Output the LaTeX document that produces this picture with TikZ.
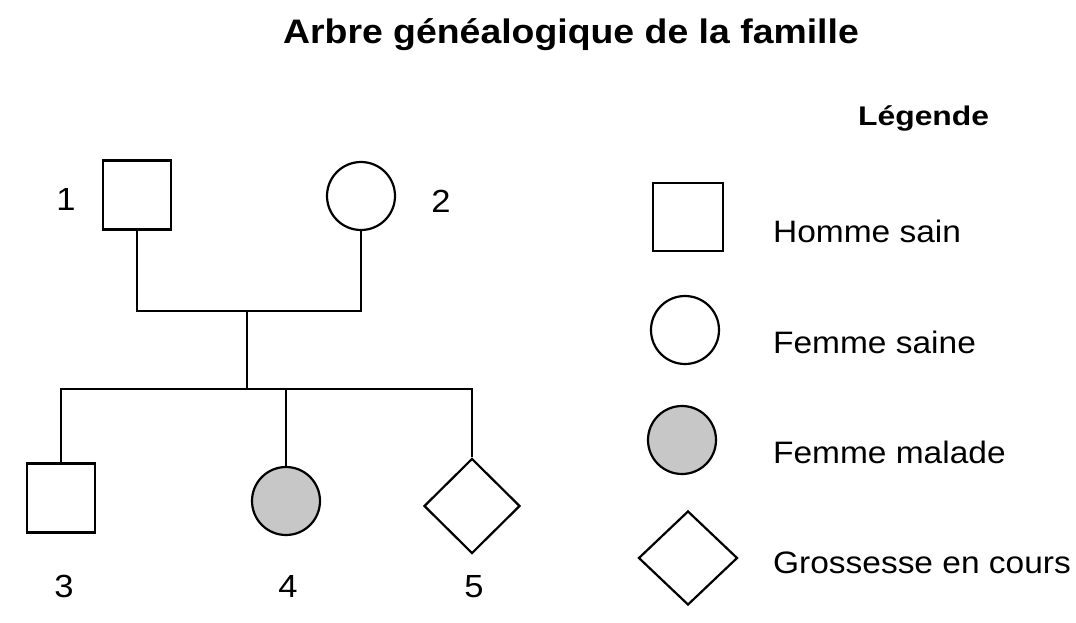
\documentclass[tikz,border=0pt]{standalone}
\usepackage{fontspec}
\setmainfont{Liberation Sans}
\newfontfamily\titlefont[FakeStretch=1.1]{Liberation Sans}
\newfontfamily\headfont[FakeStretch=1.18]{Liberation Sans}
\newfontfamily\legfont[FakeStretch=1.08]{Liberation Sans}
\usetikzlibrary{shapes.geometric}

\begin{document}
\begin{tikzpicture}[x=1pt,y=-1pt,line width=2.2pt,
    man/.style={draw,rectangle,inner sep=0pt,minimum width=68pt,minimum height=69pt},
    woman/.style={draw,circle,inner sep=0pt,minimum size=68pt},
    sick/.style={woman,fill=black!22},
    unborn/.style={draw,diamond,inner sep=0pt,minimum width=96pt,minimum height=95pt},
    num/.style={anchor=base,inner sep=0pt,font=\legfont\fontsize{32}{32}\selectfont},
    legtext/.style={anchor=base west,inner sep=0pt,font=\legfont\fontsize{31}{31}\selectfont}]

	\useasboundingbox (0,0) rectangle (1076,623);

	\node[anchor=base west,inner sep=0pt,font=\titlefont\bfseries\fontsize{34}{34}\selectfont]
        (title) at (282,44) {Arbre généalogique de la famille};

	\node[man] (p1) at (137,195) {}; \node[woman] (p2) at (361,196) {};
	\node[man] (c3) at (61,498) {}; \node[sick] (c4) at (286,501) {};
	\node[unborn] (c5) at (472,506) {};

	\coordinate (couple) at (247,311); \coordinate (sibs) at (247,389);
	\draw (p1.south) |- (couple) -| (p2.south); \draw (couple) -- (sibs);
	\draw (c3.north) |- (sibs) -| (c5.north); \draw (c4.north |- sibs)
        -- (c4.north);

	\node[num] (n1) at (66,210) {1}; \node[num] (n2) at (441,212) {2};
	\node[num] (n3) at (64,597) {3}; \node[num] (n4) at (288,597) {4};
	\node[num] (n5) at (474,597) {5};

	\node[anchor=base west,inner sep=0pt,font=\headfont\bfseries\fontsize{27}{27}\selectfont]
        (leg) at (857,126) {Légende};
	\node[man,minimum width=70pt,minimum height=68pt] (lman) at (688,217) {};
	\node[woman] (lwoman) at (685,330) {}; \node[sick] (lsick) at (682,440) {};
	\node[unborn,minimum width=99pt,minimum height=94pt] (lunborn) at (688,558) {};

	\node[legtext] (tman) at (772,242) {Homme sain};
	\node[legtext] (twoman) at (772,353) {Femme saine};
	\node[legtext] (tsick) at (772,463) {Femme malade};
	\node[legtext] (tunborn) at (772,573) {Grossesse en cours};
      \end{tikzpicture}
\end{document}
